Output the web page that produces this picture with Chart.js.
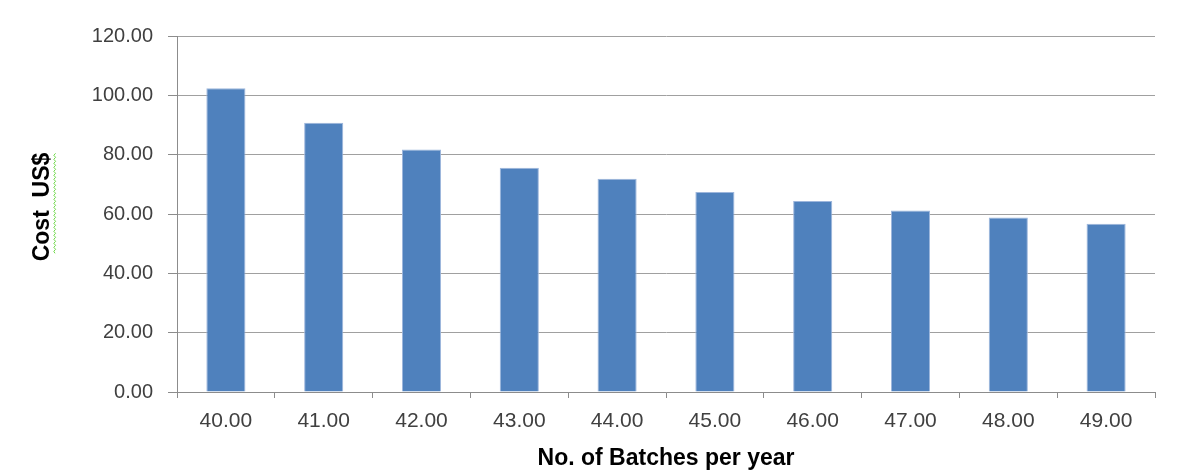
<!DOCTYPE html>
<html>
<head>
<meta charset="utf-8">
<title>Cost per batch</title>
<script src="https://cdn.jsdelivr.net/npm/chart.js@4.4.1/dist/chart.umd.min.js"></script>
<style>
  html, body { margin: 0; padding: 0; background: #ffffff; }
  #wrap { width: 1188px; height: 473px; }
</style>
</head>
<body>
<div id="wrap"><canvas id="c" width="1188" height="473"></canvas></div>
<script>
// Number of batches per year (category labels)
const batches = ['40.00', '41.00', '42.00', '43.00', '44.00', '45.00', '46.00', '47.00', '48.00', '49.00'];
// Cost per batch, US$
const costs = [102.4, 90.8, 81.7, 75.6, 71.9, 67.4, 64.4, 61.2, 58.8, 56.7];
// Value axis range and step
const yMin = 0;
const yMax = 120;
const yStep = 20;

const xTitle = 'No. of Batches per year';
const yTitle = 'Cost  US$';

const gridGray = '#a0a0a0';
const axisGray = '#8c8c8c';
const labelGray = '#404040';

// Rotated value-axis title with a wavy underline beneath "US$"
const yTitlePlugin = {
  id: 'yTitle',
  afterDraw(chart) {
    const ctx = chart.ctx;
    const area = chart.chartArea;
    const cy = (area.top + area.bottom) / 2 - 7;
    const cx = 43;
    ctx.save();
    ctx.translate(cx, cy);
    ctx.rotate(-Math.PI / 2);
    ctx.font = 'bold 23px "Liberation Sans", Arial, sans-serif';
    ctx.fillStyle = '#000000';
    ctx.textAlign = 'center';
    ctx.textBaseline = 'middle';
    ctx.fillText(yTitle, 0, 0);
    const w = ctx.measureText(yTitle).width;
    // wavy green underline
    ctx.strokeStyle = '#6fd84a';
    ctx.lineWidth = 1;
    ctx.beginPath();
    const y0 = 12;
    let x = -w / 2 + 8;
    const end = w / 2 - 2;
    let up = true;
    ctx.moveTo(x, y0);
    while (x < end) {
      x += 2;
      ctx.lineTo(x, up ? y0 - 1.2 : y0 + 0.6);
      up = !up;
    }
    ctx.stroke();
    ctx.restore();
  }
};

new Chart(document.getElementById('c'), {
  type: 'bar',
  data: {
    labels: batches,
    datasets: [{
      data: costs,
      backgroundColor: '#4f81bd',
      borderColor: '#9db6dc',
      borderWidth: 1,
      barPercentage: 0.4,
      categoryPercentage: 1.0
    }]
  },
  plugins: [yTitlePlugin],
  options: {
    responsive: false,
    animation: false,
    devicePixelRatio: 1,
    layout: { padding: { top: 36, right: 33, left: 0, bottom: 0 } },
    plugins: {
      legend: { display: false },
      tooltip: { enabled: false }
    },
    scales: {
      x: {
        grid: {
          offset: true,
          drawOnChartArea: false,
          drawTicks: true,
          tickLength: 6,
          color: axisGray,
          lineWidth: 1
        },
        border: { display: true, color: axisGray, width: 1 },
        ticks: {
          color: labelGray,
          font: { family: '"Liberation Sans", Arial, sans-serif', size: 21 },
          padding: 11,
          maxRotation: 0,
          autoSkip: false
        },
        title: {
          display: true,
          text: xTitle,
          color: '#000000',
          font: { family: '"Liberation Sans", Arial, sans-serif', size: 23, weight: 'bold' },
          padding: { top: 0, bottom: 1 }
        },
        afterFit(scale) { scale.height = 81; }
      },
      y: {
        min: yMin,
        max: yMax,
        grid: {
          color: gridGray,
          lineWidth: 1,
          tickLength: 9,
          tickColor: axisGray
        },
        border: { display: true, color: axisGray, width: 1 },
        ticks: {
          stepSize: yStep,
          color: labelGray,
          font: { family: '"Liberation Sans", Arial, sans-serif', size: 20 },
          padding: 15,
          callback: (v) => Number(v).toFixed(2)
        },
        afterFit(scale) { scale.width = 177; }
      }
    }
  }
});
</script>
</body>
</html>
